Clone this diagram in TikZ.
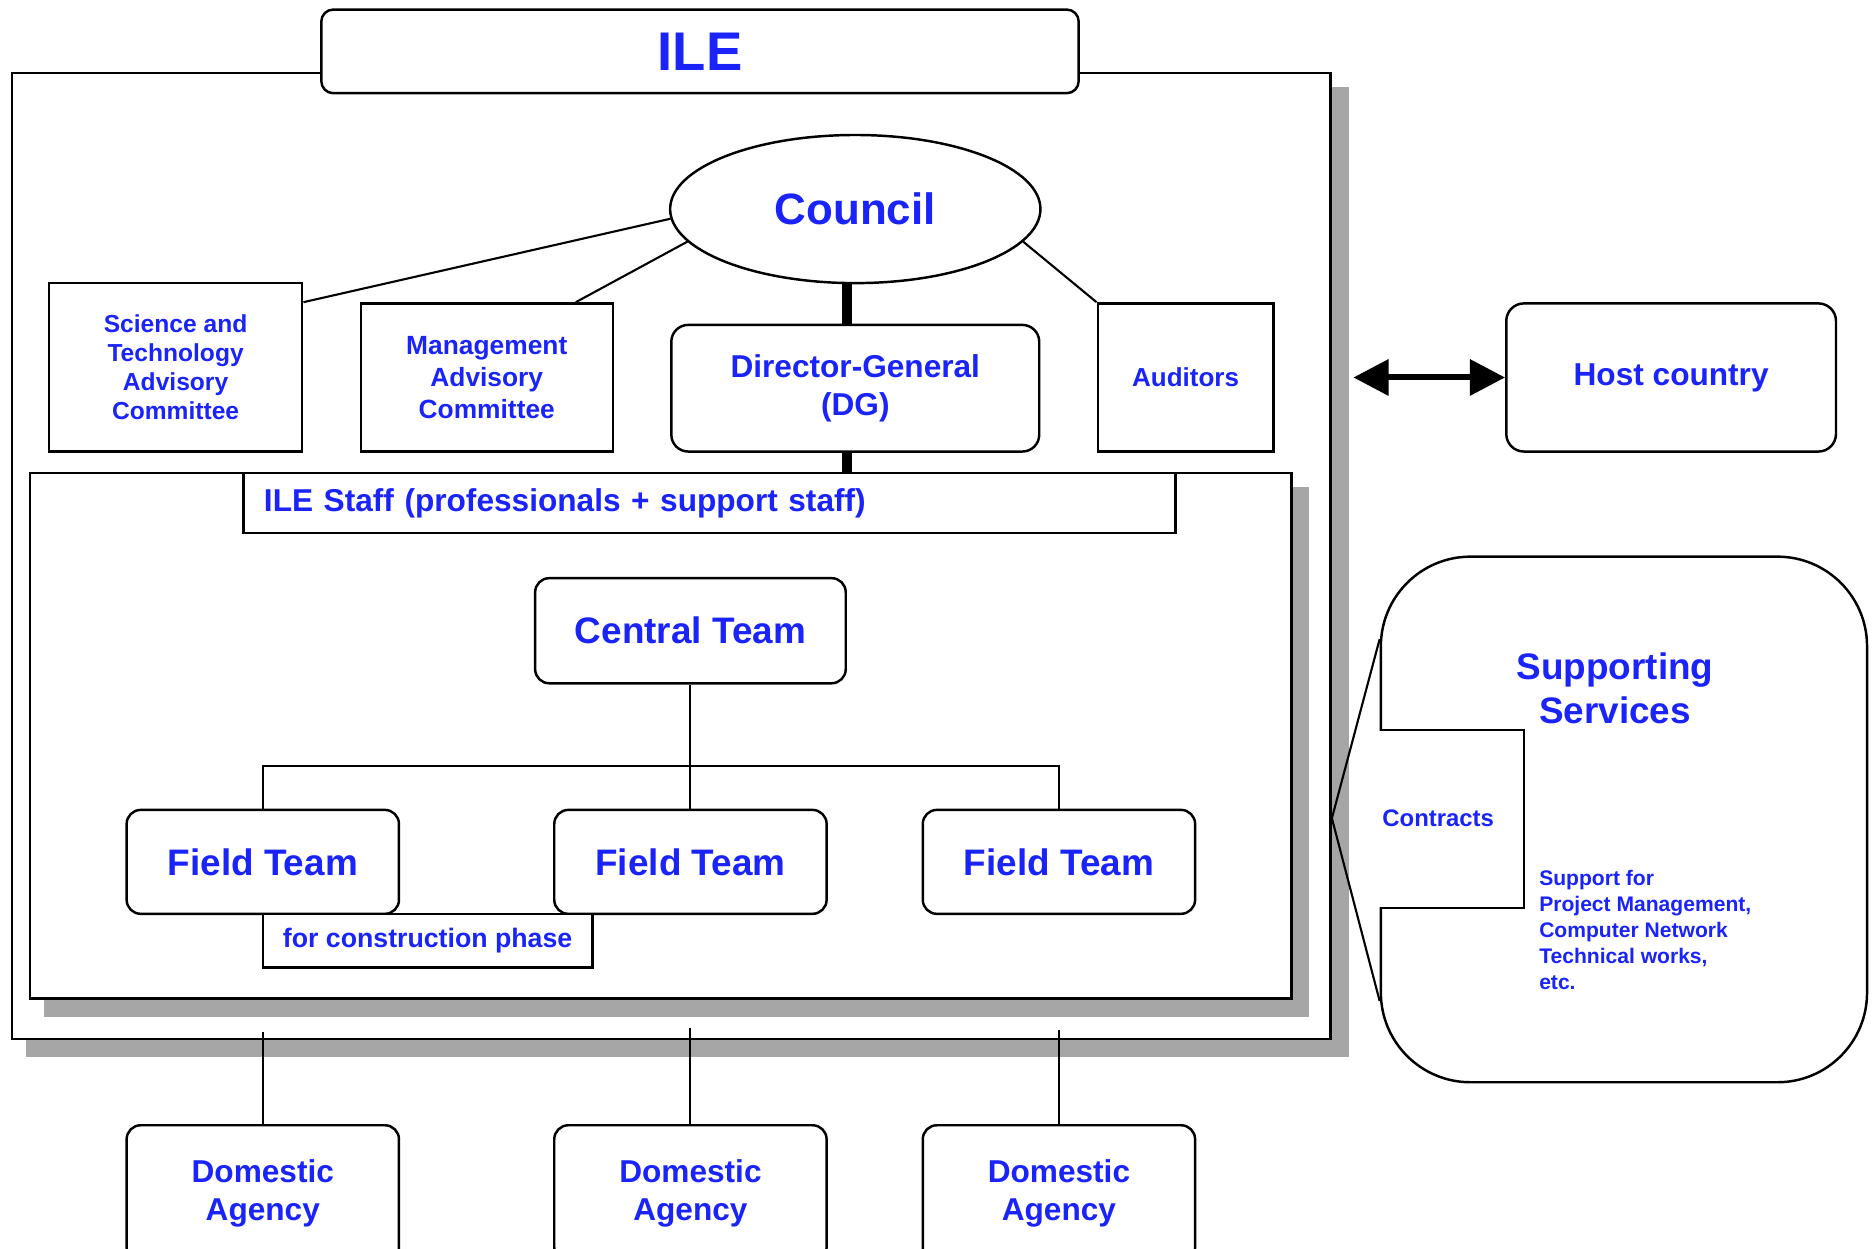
\documentclass[tikz,border=0pt]{standalone}
\usepackage{fontspec}
\setmainfont{Liberation Sans}
\usepackage{tikz}
\usetikzlibrary{shapes.geometric}
\usetikzlibrary{arrows.meta}
\usetikzlibrary{calc}
\definecolor{ileblue}{RGB}{25,35,250}
\definecolor{shadowgray}{RGB}{166,166,166}
\newlength\pxu
\setlength\pxu{0.34pt}
\newcommand\fs[2]{\bfseries\fontsize{#1}{#2}\selectfont}

\tikzset{
  box/.style={draw,line width=0.7pt,fill=white,inner sep=0pt,align=center,text=ileblue},
  rbox/.style={box,rounded corners=4pt},
  wh/.style 2 args={minimum width=#1\pxu,minimum height=#2\pxu},
  link/.style={line width=0.6pt},
  thicklink/.style={line width=2.7pt},
}

\begin{document}
\begin{tikzpicture}[x=0.34pt,y=-0.34pt]
  \useasboundingbox (0,0) rectangle (1568,1045);
  % ILE frame with shadow
  \fill[shadowgray] (22,73) rectangle (1129,885);
  \draw[line width=0.7pt,fill=white] (10,61) rectangle (1114,870);
  \node[rbox,rounded corners=3.4pt,wh={634}{70},font=\fs{15.5}{18}] (ile) at (586,43) {ILE};
  % council and its committees
  \node[box,ellipse,wh={310}{124},font=\fs{12.5}{15}] (council) at (716,175) {Council};
  \node[box,wh={212}{141},font=\fs{7}{8.2}] (stac) at (147,307.5) {Science and\\Technology\\Advisory\\Committee};
  \node[box,wh={211}{124},font=\fs{7.5}{9}] (mac) at (407.5,316) {Management\\Advisory\\Committee};
  \node[rbox,rounded corners=4.8pt,wh={308}{106},font=\fs{9}{10.9}] (dg) at (716,325) {Director-General\\(DG)};
  \node[box,wh={147}{124},font=\fs{7.4}{9}] (aud) at (992.5,316) {Auditors};
  \draw[link] (council.183) -- ($(stac.north east)+(0,17)$);
  \draw[link] (council.191) -- ($(mac.north east)+(-32,0)$);
  \draw[link] (council.-11) -- (aud.north west);
  \draw[thicklink] ([xshift=-7\pxu]council.south) -- ([xshift=-7\pxu]dg.north);
  % staff frame
  \fill[shadowgray] (37,408) rectangle (1096,851);
  \draw[line width=0.7pt,fill=white] (25,396) rectangle (1081,836);
  \node[box,wh={780}{50},inner xsep=17\pxu,text width=746\pxu,align=left,font=\fs{9}{10.9}] (staff) at (594,421) {ILE Staff (professionals + support staff)};
  \draw[thicklink] ([xshift=-7\pxu]dg.south) -- ([xshift=-7\pxu]dg.south |- staff.north);
  % teams
  \node[rbox,wh={260}{88},font=\fs{10.5}{12.5}] (central) at (578,528) {Central Team};
  \node[rbox,wh={228}{87},font=\fs{10.5}{12.5}] (ft1) at (220,721.5) {Field Team};
  \node[rbox,wh={228}{87},font=\fs{10.5}{12.5}] (ft2) at (578,721.5) {Field Team};
  \node[rbox,wh={228}{87},font=\fs{10.5}{12.5}] (ft3) at (886.5,721.5) {Field Team};
  \draw[link] (central.south) -- (ft2.north);
  \draw[link] (ft1.north) -- ++(0,-36) -| (ft3.north);
  \node[box,wh={276}{45},font=\fs{7.6}{9}] (constr) at (358,787.5) {for construction phase};
  % domestic agencies
  \node[rbox,wh={228}{114},font=\fs{9}{10.9}] (da1) at (220,999) {Domestic\\Agency};
  \node[rbox,wh={228}{114},font=\fs{9}{10.9}] (da2) at (578,999) {Domestic\\Agency};
  \node[rbox,wh={228}{114},font=\fs{9}{10.9}] (da3) at (886.5,999) {Domestic\\Agency};
  \coordinate (d1) at (220,864);
  \coordinate (d2) at (578,861);
  \coordinate (d3) at (886.5,862);
  \draw[link] (d1) -- (da1.north);
  \draw[link] (d2) -- (da2.north);
  \draw[link] (d3) -- (da3.north);
  % host country
  \node[rbox,rounded corners=5pt,wh={276}{124},font=\fs{9}{10.9}] (host) at (1399,316) {Host country};
  \coordinate (arr) at (1133,316);
  \draw[line width=1.7pt,{Triangle[length=10pt,width=10pt]}-{Triangle[length=10pt,width=10pt]}] (arr) -- (host.west);
  % supporting services
  \node[rbox,rounded corners=25.5pt,wh={407}{440}] (svc) at (1359.5,686) {};
  \fill[white] ($(svc.west)+(-1,-74)$) rectangle ($(svc.west)+(119,73)$);
  \draw[line width=0.7pt] ($(svc.west)+(0,-75)$) -- ++(121,0) -- ++(0,149) -- ++(-121,0);
  \coordinate (wedge) at (1115,685);
  \draw[link] ($(svc.west)+(0,-151)$) -- (wedge) -- ($(svc.west)+(0,152)$);
  \node[text=ileblue,align=center,font=\fs{10.5}{12.6}] (svctitle) at (1352,576) {Supporting\\Services};
  \node[text=ileblue,font=\fs{6.8}{8}] (contracts) at (1204,685) {Contracts};
  \node[text=ileblue,align=left,anchor=north west,inner sep=0pt,font=\fs{6}{7.4}] (svcnote) at (1288,728) {Support for\\Project Management,\\Computer Network\\Technical works,\\etc.};
\end{tikzpicture}
\end{document}
